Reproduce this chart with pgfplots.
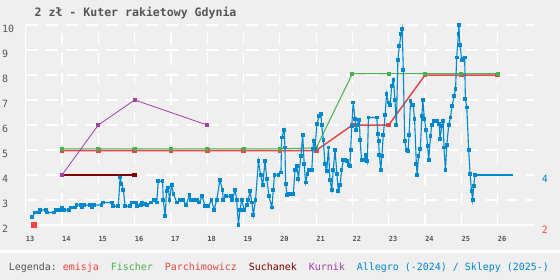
\documentclass[border=0pt]{standalone}
\usepackage{pgfplots}
\pgfplotsset{compat=1.18}
\usepackage{fontspec}
\setmainfont{DejaVu Sans Mono}
\setmonofont{DejaVu Sans Mono}
\definecolor{bg}{HTML}{EFEFEF}
\definecolor{txt}{HTML}{555555}
\definecolor{emis}{HTML}{FF4040}
\definecolor{fis}{HTML}{4CB050}
\definecolor{par}{HTML}{E24848}
\definecolor{such}{HTML}{800000}
\definecolor{kur}{HTML}{A040A8}
\definecolor{alle}{HTML}{0088CC}
\begin{document}
\begin{tikzpicture}
\fill[bg] (0bp,0bp) rectangle (560bp,280bp);
\fill[white] (0bp,27bp) rectangle (560bp,30bp);
\useasboundingbox (0bp,0bp) rectangle (560bp,280bp);
\begin{axis}[
  at={(25.7bp,55bp)}, anchor=south west,
  scale only axis, width=508.3bp, height=200bp,
  xmin=13, xmax=27, ymin=2, ymax=10,
  xtick={13,...,26}, ytick={2,...,10},
  axis x line*=bottom, axis y line*=left,
  axis line style={white, line width=1.2bp, -},
  major tick length=0pt,
  grid=major,
  major grid style={white, line width=1.2bp, dash pattern=on 12bp off 8bp},
  /pgf/number format/assume math mode=true,
  xticklabel style={anchor=base west, inner sep=0pt, yshift=-16.7bp, font=\fontsize{7}{8}\selectfont\bfseries, text=txt},
  yticklabel style={anchor=base west, inner sep=0pt, xshift=-23.7bp, yshift=-7.5bp, font=\fontsize{10}{12}\selectfont, text=txt},
  clip=false,
]
% emisja
\addplot[only marks, mark=square*, mark size=2.5bp, color=emis] coordinates {(13.23,2.0)};
% Parchimowicz
\addplot[color=par, line width=1.5bp, mark=square*, mark size=1.6bp] coordinates {
(14,4.98)(15,4.98)(16,4.98)(17,4.98)(18,4.98)(19,4.98)(20,4.98)(21,4.98)(22,6.0)(23,6.0)(24,8.0)(25,8.0)(26,8.0)};
% Fischer
\addplot[color=fis, line width=1bp, mark=square*, mark size=1.5bp] coordinates {
(14,5.05)(15,5.05)(16,5.05)(17,5.05)(18,5.05)(19,5.05)(20,5.05)(21,5.08)(22,8.06)(23,8.06)(24,8.06)(25,8.06)(26,8.06)};
% Suchanek
\addplot[color=such, line width=1.4bp, mark=square*, mark size=1.5bp] coordinates {(14,4.0)(16,4.0)};
% Kurnik
\addplot[color=kur, line width=0.8bp, mark=square*, mark size=1.5bp] coordinates {(14,4.0)(15,6.0)(16,7.0)(18,6.0)};
% Allegro / Sklepy
\addplot[color=alle, line width=1.1bp, mark=square*, mark size=1.35bp] coordinates {
(13.18,2.31)(13.26,2.5)(13.37,2.5)(13.39,2.6)(13.55,2.6)(13.58,2.5)(13.79,2.5)(13.83,2.6)(13.94,2.6)
(14.01,2.7)(14.06,2.6)(14.19,2.6)(14.25,2.7)(14.36,2.7)(14.40,2.8)(14.52,2.8)(14.56,2.7)(14.62,2.8)
(14.78,2.8)(14.83,2.7)(14.89,2.8)(15.09,2.8)(15.13,2.9)(15.37,2.9)(15.41,2.75)(15.55,2.75)(15.60,3.9)
(15.64,3.65)(15.69,3.4)(15.74,2.75)(15.87,2.75)(15.92,2.9)(16.04,2.9)(16.07,2.75)(16.17,2.8)(16.21,2.9)
(16.29,2.85)(16.35,2.8)(16.45,2.9)(16.52,3.0)(16.56,3.0)(16.61,2.9)(16.65,3.75)(16.77,3.75)(16.79,3.0)
(16.84,2.35)(16.88,3.35)(16.93,3.5)(16.96,3.0)(17.02,3.6)(17.07,3.25)(17.16,2.9)(17.25,3.0)(17.34,3.0)
(17.42,2.8)(17.51,3.2)(17.55,3.0)(17.62,3.0)(17.71,3.0)(17.78,2.9)(17.86,3.15)(17.94,2.75)(18.03,2.75)
(18.12,3.0)(18.19,2.6)(18.26,3.0)(18.35,3.8)(18.42,3.4)(18.44,3.0)(18.51,3.15)(18.65,3.15)(18.69,3.0)
(18.77,3.4)(18.81,3.0)(18.86,2.0)(18.90,2.6)(18.95,3.0)(19.02,2.6)(19.09,2.8)(19.13,3.0)(19.18,3.35)
(19.23,2.9)(19.27,2.4)(19.33,3.0)(19.41,4.55)(19.47,4.0)(19.53,3.6)(19.59,4.55)(19.64,3.85)(19.70,3.15)
(19.78,2.7)(19.82,3.4)(19.85,4.0)(19.96,4.0)(20.03,4.1)(20.05,5.5)(20.12,5.8)(20.14,5.1)(20.16,3.65)
(20.20,3.2)(20.26,3.25)(20.37,3.25)(20.42,4.2)(20.47,4.35)(20.51,3.85)(20.58,4.75)(20.63,5.6)(20.67,4.45)
(20.71,3.7)(20.76,4.05)(20.79,4.2)(20.88,4.2)(20.91,5.05)(20.93,5.35)(20.97,5.05)(21.02,6.05)(21.08,6.35)
(21.13,6.45)(21.15,6.0)(21.20,5.4)(21.24,4.45)(21.29,4.15)(21.34,5.1)(21.38,3.8)(21.43,3.4)(21.47,4.2)
(21.52,5.0)(21.57,4.05)(21.61,3.35)(21.66,3.6)(21.70,4.2)(21.75,4.6)(21.80,4.6)(21.84,4.55)(21.89,4.4)
(21.93,4.35)(21.95,5.0)(21.98,5.95)(22.02,6.9)(22.07,6.25)(22.10,5.8)(22.13,6.0)(22.19,6.2)(22.21,5.4)
(22.25,4.6)(22.32,4.6)(22.37,4.8)(22.41,4.55)(22.44,6.3)(22.67,6.3)(22.70,5.65)(22.72,5.35)(22.74,4.8)
(22.78,4.2)(22.81,4.75)(22.85,5.6)(22.90,6.4)(22.94,7.25)(22.99,6.9)(23.04,6.8)(23.08,7.55)(23.13,7.8)
(23.17,7.0)(23.21,6.0)(23.25,8.6)(23.29,9.15)(23.34,9.65)(23.37,9.85)(23.40,8.2)(23.44,5.35)(23.49,5.0)
(23.53,4.95)(23.56,5.6)(23.60,6.95)(23.67,6.8)(23.71,6.25)(23.76,4.45)(23.78,4.0)(23.82,4.75)(23.87,5.05)
(23.91,6.35)(23.94,7.0)(23.98,6.25)(24.03,5.8)(24.07,5.15)(24.10,4.6)(24.15,5.55)(24.18,6.0)(24.25,6.15)
(24.33,6.15)(24.39,6.05)(24.41,5.45)(24.46,5.95)(24.50,6.15)(24.52,5.1)(24.56,4.2)(24.60,5.2)(24.65,6.0)
(24.70,6.3)(24.74,6.75)(24.80,7.15)(24.84,7.45)(24.87,8.7)(24.92,9.65)(24.93,10.0)(24.96,9.2)(25.01,8.6)
(25.05,8.65)(25.09,8.7)(25.11,7.05)(25.15,6.7)(25.20,5.0)(25.24,4.05)(25.28,3.35)(25.31,3.0)(25.34,3.55)
(25.37,4.0)};
\addplot[color=alle, line width=2.8bp] coordinates {(25.37,4.0)(26.42,4.0)};
\node[anchor=base west, inner sep=0pt, text=alle, font=\fontsize{10}{12}\selectfont, xshift=7.7bp, yshift=-7.3bp] at (axis cs:27,4) {4};
\node[anchor=base west, inner sep=0pt, text=emis, font=\fontsize{10}{12}\selectfont, xshift=7.7bp, yshift=-8.5bp] at (axis cs:27,2) {2};
\end{axis}
\node[anchor=base west, inner sep=0pt, text=txt, font=\fontsize{11.6}{13}\selectfont\bfseries] at (34.5bp,263.3bp) {2 zł - Kuter rakietowy Gdynia};
\node[anchor=base west, inner sep=0pt, font=\fontsize{10}{12}\selectfont] at (8.8bp,10bp) {\textcolor{txt}{Legenda:}~\textcolor{emis}{emisja}~~\textcolor{fis}{Fischer}~~\textcolor{par}{Parchimowicz}~~\textcolor{such}{Suchanek}~~\textcolor{kur}{Kurnik}~~\textcolor{alle}{Allegro (-2024) / Sklepy (2025-)}};
\end{tikzpicture}
\end{document}
